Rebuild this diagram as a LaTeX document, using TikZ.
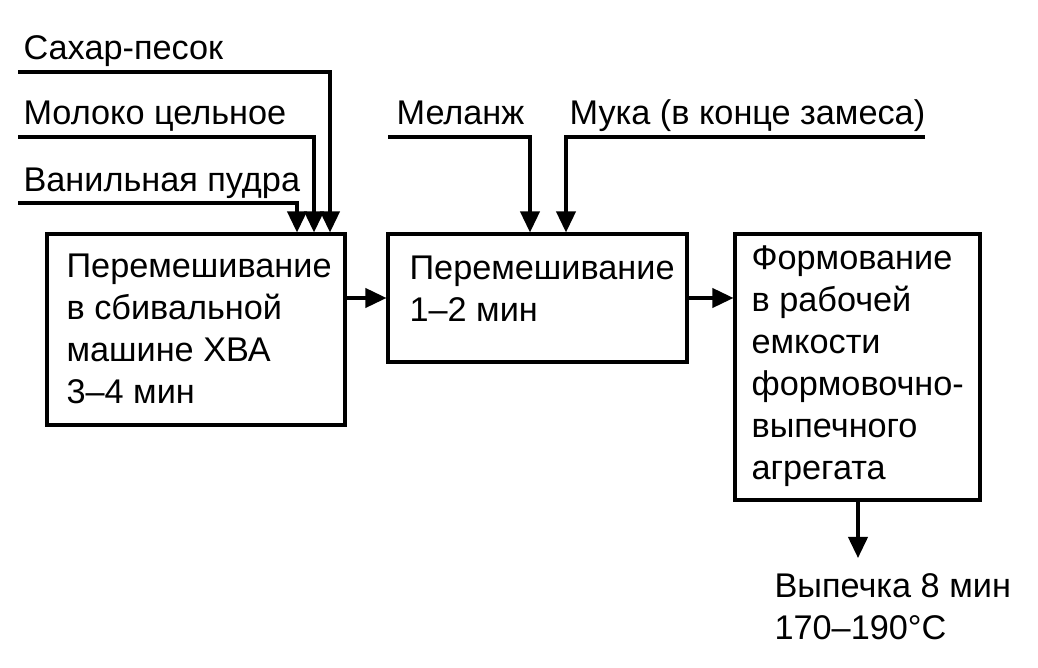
\documentclass[tikz,border=0pt]{standalone}
\usepackage{fontspec}
\setmainfont{Liberation Sans}
\usetikzlibrary{arrows.meta}

\begin{document}
\begin{tikzpicture}[x=0.02cm,y=-0.02cm,
  font=\fontsize{19.5}{24}\selectfont,
  line width=1.8pt,
  box/.style={draw, rectangle, inner sep=0pt},
  arr/.style={-{Triangle[width=11pt,length=12pt]}},
  lbl/.style={anchor=base west, align=left, inner sep=0pt}]
\useasboundingbox (0,0) rectangle (1038,668);

% boxes
\node[box, minimum width=5.96cm, minimum height=3.82cm] (mix1) at (196,329.5) {};
\node[box, minimum width=5.98cm, minimum height=2.56cm] (mix2) at (537.5,298) {};
\node[box, minimum width=4.9cm, minimum height=5.32cm] (form) at (857.5,367) {};

% box texts (placed at the baseline of the last line)
\node[lbl] (mix1txt) at (65,404) {Перемешивание\\в сбивальной\\машине ХВА\\3--4 мин};
\node[lbl] (mix2txt) at (408,322) {Перемешивание\\1--2 мин};
\node[lbl] (formtxt) at (750,480) {Формование\\в рабочей\\емкости\\формовочно-\\выпечного\\агрегата};

% inputs
\node[lbl] (sugar) at (22,60) {Сахар-песок};
\node[lbl] (milk) at (22,125) {Молоко цельное};
\node[lbl] (vanil) at (22,192) {Ванильная пудра};
\node[lbl] (melange) at (395,125) {Меланж};
\node[lbl] (flour) at (568,125) {Мука (в конце замеса)};
\node[lbl] (bake) at (773,640) {Выпечка 8 мин\\170--190°C};

\coordinate (sugar0) at (18,72);
\coordinate (milk0) at (18,137);
\coordinate (vanil0) at (18,203);
\coordinate (melange0) at (388,137);
\coordinate (flour0) at (925,137);
\coordinate (bake0) at (858,558);

\draw[arr] (sugar0) -| (mix1.north west -| 330,0);
\draw[arr] (milk0) -| (mix1.north west -| 314,0);
\draw[arr] (vanil0) -| (mix1.north west -| 297,0);
\draw[arr] (melange0) -| (mix2.north west -| 530,0);
\draw[arr] (flour0) -| (mix2.north west -| 566,0);

\draw[arr] (mix1.east |- mix2.west) -- (mix2.west);
\draw[arr] (mix2.east) -- (mix2.east -| form.west);
\draw[arr] (form.south -| bake0) -- (bake0);
\end{tikzpicture}
\end{document}
